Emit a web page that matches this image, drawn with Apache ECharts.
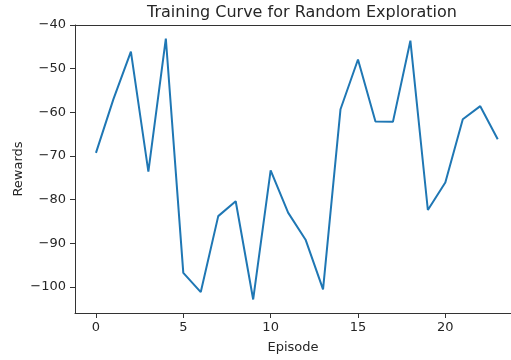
<!DOCTYPE html>
<html>
<head>
<meta charset="utf-8">
<script src="https://cdn.jsdelivr.net/npm/echarts@6/dist/echarts.min.js"></script>
<style>
html,body{margin:0;padding:0;background:#fff;}
#chart{width:511px;height:360px;}
</style>
</head>
<body>
<div id="chart"></div>
<script>
var episodes = [0,1,2,3,4,5,6,7,8,9,10,11,12,13,14,15,16,17,18,19,20,21,22,23];
var rewards = [-69.3,-57.0,-46.1,-73.6,-43.1,-96.8,-101.2,-83.8,-80.4,-102.9,-73.3,-83.0,-89.2,-100.6,-59.3,-47.9,-62.1,-62.2,-43.6,-82.4,-76.1,-61.6,-58.6,-66.2];
var xTicks = [0,5,10,15,20];
var yTicks = [-100,-90,-80,-70,-60,-50,-40];
var titleText = 'Training Curve for Random Exploration';
var xName = 'Episode';
var yName = 'Rewards';

var data = episodes.map(function(e,i){return [e, rewards[i]];});
var font = 'DejaVu Sans';
var txt = '#262626';
var axisCol = '#333';

var chart = echarts.init(document.getElementById('chart'), null, {renderer:'canvas'});
chart.setOption({
  animation:false,
  backgroundColor:'#fff',
  title:{text:titleText,left:297,textAlign:'center',top:0,
    textStyle:{fontFamily:font,fontSize:16,fontWeight:'normal',color:txt}},
  grid:{left:75,top:25,right:0,bottom:47,show:false,containLabel:false,outerBoundsMode:'none'},
  xAxis:[{type:'value',min:-1.2,max:23.76,
    name:xName,nameLocation:'middle',nameGap:28,nameMoveOverlap:false,
    nameTextStyle:{fontFamily:font,fontSize:13,color:txt},
    axisLine:{show:true,onZero:false,lineStyle:{color:axisCol,width:1}},
    axisTick:{show:true,length:5,customValues:xTicks,lineStyle:{color:axisCol}},
    axisLabel:{customValues:xTicks,fontFamily:font,fontSize:13,color:txt,margin:8},
    splitLine:{show:false}},
   {type:'value',position:'top',min:-1.2,max:23.76,
    axisLine:{show:true,onZero:false,lineStyle:{color:axisCol,width:1}},
    axisTick:{show:false},axisLabel:{show:false},splitLine:{show:false}}],
  yAxis:{type:'value',min:-106,max:-40,
    name:yName,nameLocation:'middle',nameGap:50,nameRotate:90,nameMoveOverlap:false,
    nameTextStyle:{fontFamily:font,fontSize:13,color:txt},
    axisLine:{show:true,onZero:false,lineStyle:{color:axisCol,width:1}},
    axisTick:{show:true,length:5,customValues:yTicks,lineStyle:{color:axisCol}},
    axisLabel:{customValues:yTicks,fontFamily:font,fontSize:13,color:txt,margin:9,
      formatter:function(v){return v<0?'\u2212'+Math.abs(v):String(v);}},
    splitLine:{show:false}},
  series:[{type:'line',xAxisIndex:0,data:data,symbol:'none',smooth:false,
    lineStyle:{color:'#1f77b4',width:2},itemStyle:{color:'#1f77b4'}}]
});
</script>
</body>
</html>
